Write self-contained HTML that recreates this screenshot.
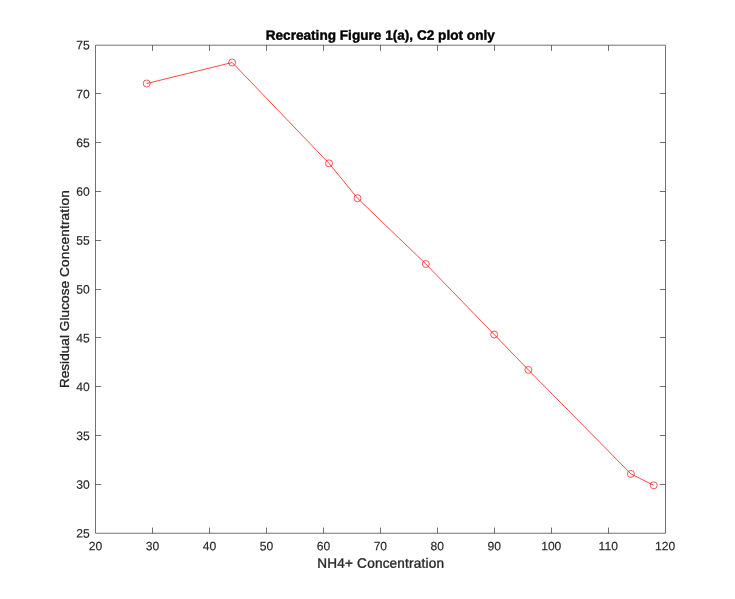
<!DOCTYPE html>
<html lang="en">
<head>
<meta charset="utf-8">
<title>Recreating Figure 1(a), C2 plot only</title>
<style>
html,body{margin:0;padding:0;background:#fff;overflow:hidden}
svg{display:block;will-change:transform}
text{font-family:"Liberation Sans",Arial,Helvetica,sans-serif}
.tk{font-size:12.1px;fill:#262626;stroke:#262626;stroke-width:0.15px}
.lb{font-size:13.6px;fill:#262626;stroke:#262626;stroke-width:0.35px}
.tt{font-size:13.6px;font-weight:bold;fill:#000;stroke:#000;stroke-width:0.4px}
</style>
</head>
<body>
<svg width="735" height="599" viewBox="0 0 735 599">
<rect width="735" height="599" fill="#fff"/>
<!-- axes box and tick marks -->
<g stroke="#262626" stroke-width="0.66" fill="none">
<path d="M95.5 45.2H665.5V533.25H95.5Z"/>
<path d="M152.5 533.25V527.55M152.5 45.2V50.90"/>
<path d="M209.5 533.25V527.55M209.5 45.2V50.90"/>
<path d="M266.5 533.25V527.55M266.5 45.2V50.90"/>
<path d="M323.5 533.25V527.55M323.5 45.2V50.90"/>
<path d="M380.5 533.25V527.55M380.5 45.2V50.90"/>
<path d="M437.5 533.25V527.55M437.5 45.2V50.90"/>
<path d="M494.5 533.25V527.55M494.5 45.2V50.90"/>
<path d="M551.5 533.25V527.55M551.5 45.2V50.90"/>
<path d="M608.5 533.25V527.55M608.5 45.2V50.90"/>
<path d="M95.5 93.5H101.20M665.5 93.5H659.80"/>
<path d="M95.5 142.5H101.20M665.5 142.5H659.80"/>
<path d="M95.5 191.5H101.20M665.5 191.5H659.80"/>
<path d="M95.5 240.5H101.20M665.5 240.5H659.80"/>
<path d="M95.5 289.5H101.20M665.5 289.5H659.80"/>
<path d="M95.5 337.5H101.20M665.5 337.5H659.80"/>
<path d="M95.5 386.5H101.20M665.5 386.5H659.80"/>
<path d="M95.5 435.5H101.20M665.5 435.5H659.80"/>
<path d="M95.5 484.5H101.20M665.5 484.5H659.80"/>
</g>
<!-- x tick labels -->
<g class="tk" text-anchor="middle">
<text x="95.55" y="550.2" transform="rotate(0.03 95.55 550.2)">20</text>
<text x="152.52" y="550.2" transform="rotate(0.03 152.52 550.2)">30</text>
<text x="209.48" y="550.2" transform="rotate(0.03 209.48 550.2)">40</text>
<text x="266.45" y="550.2" transform="rotate(0.03 266.45 550.2)">50</text>
<text x="323.41" y="550.2" transform="rotate(0.03 323.41 550.2)">60</text>
<text x="380.38" y="550.2" transform="rotate(0.03 380.38 550.2)">70</text>
<text x="437.34" y="550.2" transform="rotate(0.03 437.34 550.2)">80</text>
<text x="494.31" y="550.2" transform="rotate(0.03 494.31 550.2)">90</text>
<text x="551.27" y="550.2" transform="rotate(0.03 551.27 550.2)">100</text>
<text x="608.24" y="550.2" transform="rotate(0.03 608.24 550.2)">110</text>
<text x="665.20" y="550.2" transform="rotate(0.03 665.20 550.2)">120</text>
</g>
<!-- y tick labels -->
<g class="tk" text-anchor="end">
<text x="89.8" y="537.55" transform="rotate(0.03 89.8 537.55)">25</text>
<text x="89.8" y="488.73" transform="rotate(0.03 89.8 488.73)">30</text>
<text x="89.8" y="439.91" transform="rotate(0.03 89.8 439.91)">35</text>
<text x="89.8" y="391.09" transform="rotate(0.03 89.8 391.09)">40</text>
<text x="89.8" y="342.27" transform="rotate(0.03 89.8 342.27)">45</text>
<text x="89.8" y="293.45" transform="rotate(0.03 89.8 293.45)">50</text>
<text x="89.8" y="244.63" transform="rotate(0.03 89.8 244.63)">55</text>
<text x="89.8" y="195.81" transform="rotate(0.03 89.8 195.81)">60</text>
<text x="89.8" y="146.99" transform="rotate(0.03 89.8 146.99)">65</text>
<text x="89.8" y="98.17" transform="rotate(0.03 89.8 98.17)">70</text>
<text x="89.8" y="49.35" transform="rotate(0.03 89.8 49.35)">75</text>
</g>
<!-- axis labels and title -->
<text class="lb" x="317.2" y="567.8" transform="rotate(0.03 380 567.8)" textLength="126.9" lengthAdjust="spacing">NH4+ Concentration</text>
<text class="lb" transform="translate(68.8,388.10) rotate(-90)" textLength="53.03" lengthAdjust="spacing">Residual</text>
<text class="lb" transform="translate(68.8,331.16) rotate(-90)" textLength="50.28" lengthAdjust="spacing">Glucose</text>
<text class="lb" transform="translate(68.8,276.92) rotate(-90)" textLength="86.67" lengthAdjust="spacing">Concentration</text>
<text class="tt" x="265.7" y="39.8" transform="rotate(0.03 380 39.8)" textLength="229.1" lengthAdjust="spacing">Recreating Figure 1(a), C2 plot only</text>
<!-- data series -->
<polyline points="146.72,83.50 232.17,62.50 329.01,163.35 357.49,198.20 425.85,264.00 494.21,334.50 528.38,369.90 630.92,473.90 653.71,485.30" fill="none" stroke="#ff0000" stroke-opacity="0.72" stroke-width="1" stroke-linejoin="round"/>
<g fill="none" stroke="#ff0000" stroke-opacity="0.88" stroke-width="0.75">
<circle cx="146.72" cy="83.50" r="3.5"/>
<circle cx="232.17" cy="62.50" r="3.5"/>
<circle cx="329.01" cy="163.35" r="3.5"/>
<circle cx="357.49" cy="198.20" r="3.5"/>
<circle cx="425.85" cy="264.00" r="3.5"/>
<circle cx="494.21" cy="334.50" r="3.5"/>
<circle cx="528.38" cy="369.90" r="3.5"/>
<circle cx="630.92" cy="473.90" r="3.5"/>
<circle cx="653.71" cy="485.30" r="3.5"/>
</g>
</svg>
</body>
</html>
